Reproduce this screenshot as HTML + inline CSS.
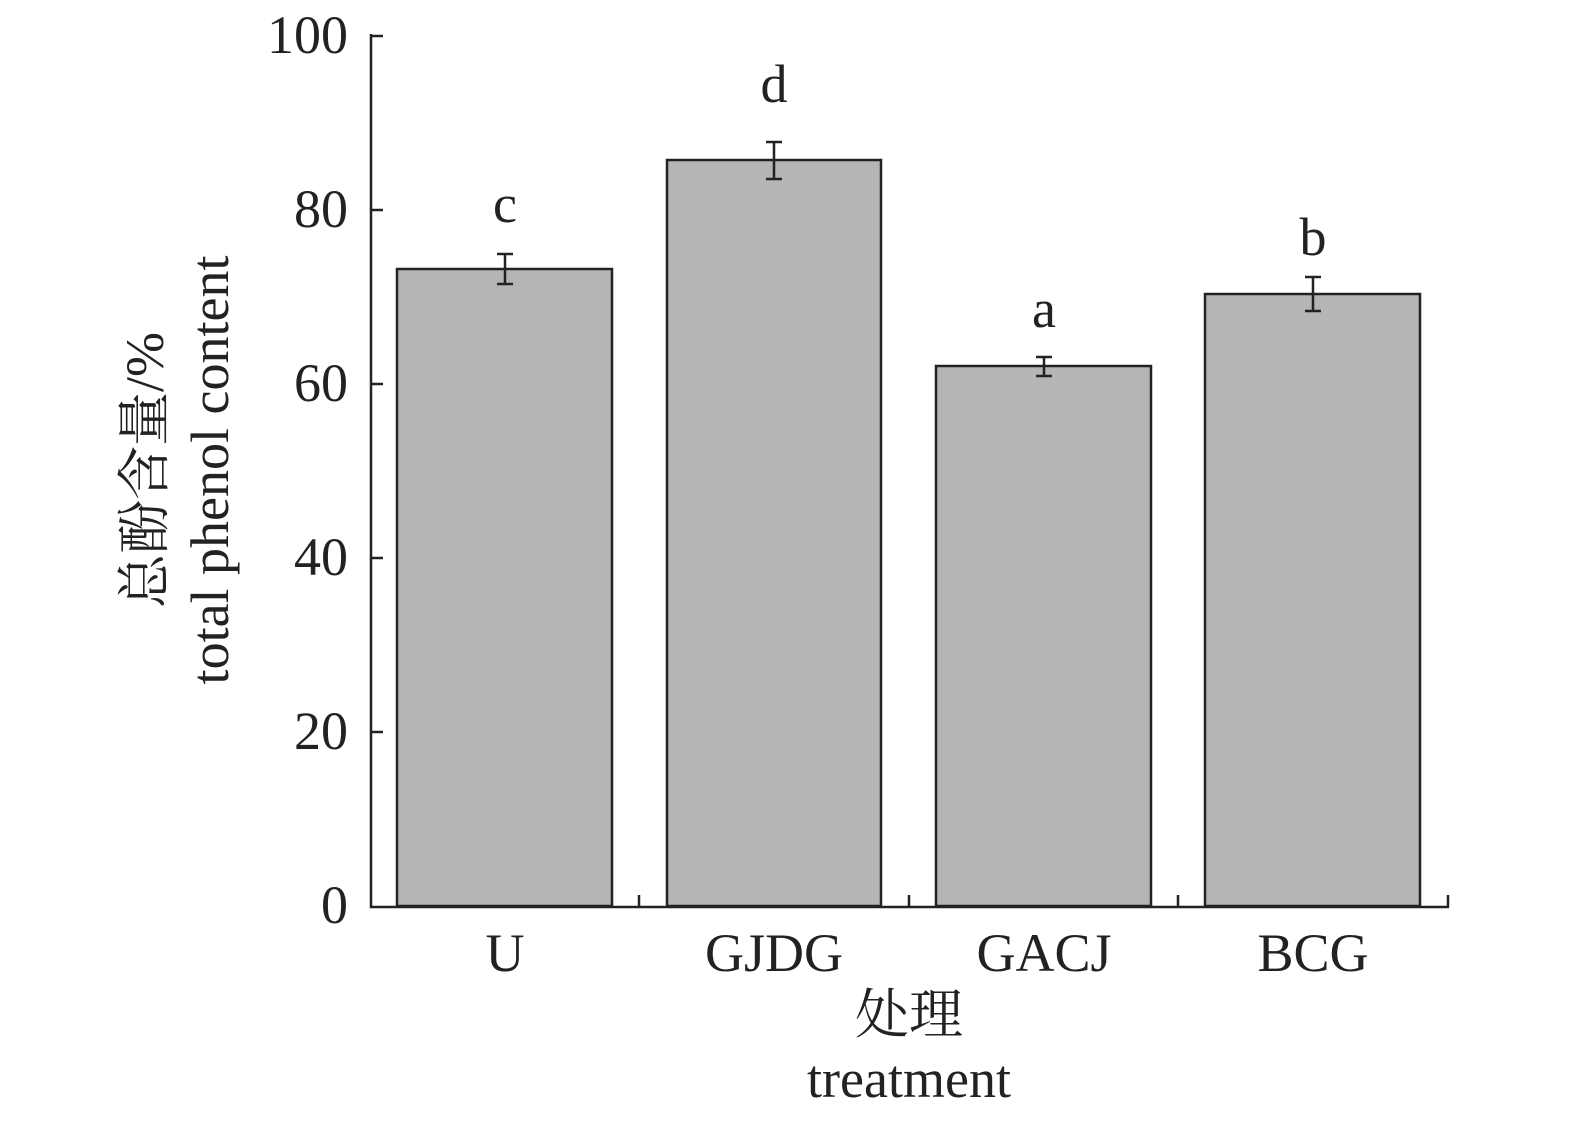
<!DOCTYPE html>
<html><head><meta charset="utf-8"><style>body{margin:0;background:#fff}</style></head><body>
<svg width="1575" height="1128" xmlns="http://www.w3.org/2000/svg" font-family="Liberation Serif, Noto Serif CJK SC, serif" fill="#222">
<g fill="#b5b5b5" stroke="#222" stroke-width="2.5">
<rect x="397" y="269" width="215" height="637"/>
<rect x="667" y="160" width="214" height="746"/>
<rect x="936" y="366" width="215" height="540"/>
<rect x="1205" y="294" width="215" height="612"/>
</g>
<g stroke="#222" stroke-width="2.5" fill="none">
<path d="M371,34V907H1449"/>
<path d="M371,36H383M371,210H383M371,384H383M371,558H383M371,732H383"/>
<path d="M639,907V895M909,907V895M1178,907V895M1448,907V895"/>
<path d="M505,254V284M497,254H513M497,284H513"/>
<path d="M774,142V179M766,142H782M766,179H782"/>
<path d="M1044,357V376M1036,357H1052M1036,376H1052"/>
<path d="M1313,277V311M1305,277H1321M1305,311H1321"/>
</g>
<g font-size="54" text-anchor="end">
<text x="348" y="53">100</text><text x="348" y="227">80</text><text x="348" y="401">60</text>
<text x="348" y="575">40</text><text x="348" y="749">20</text><text x="348" y="923">0</text>
</g>
<g font-size="54" text-anchor="middle">
<text x="505" y="971">U</text><text x="774" y="971">GJDG</text><text x="1044" y="971">GACJ</text><text x="1313" y="971">BCG</text>
<text x="505" y="222">c</text><text x="774" y="102">d</text><text x="1044" y="327">a</text><text x="1313" y="255">b</text>
<text x="909" y="1033">处理</text>
<text x="909" y="1097">treatment</text>
<text transform="translate(163,470) rotate(-90)">总酚含量/%</text>
<text transform="translate(228,470) rotate(-90)">total phenol content</text>
</g>
</svg>
</body></html>
